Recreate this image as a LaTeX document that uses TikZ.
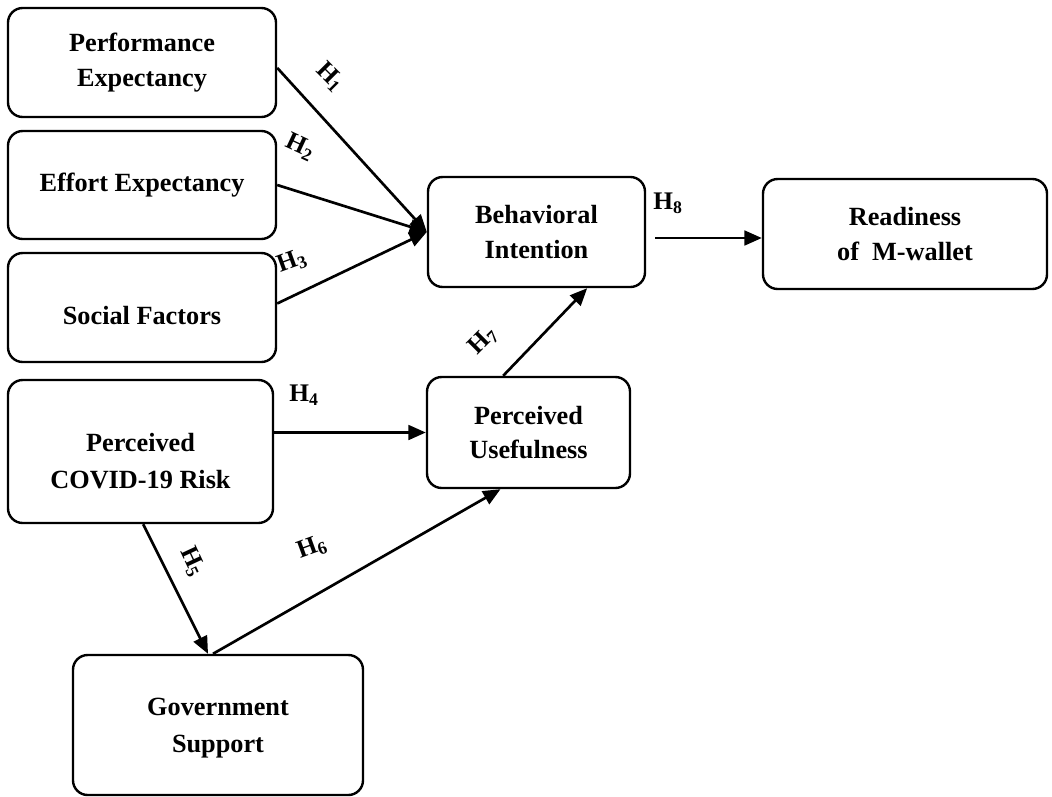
\documentclass[tikz,border=0pt]{standalone}
\usepackage{fontspec}
\setmainfont{Liberation Serif}
\usetikzlibrary{arrows.meta}

\begin{document}
\begin{tikzpicture}[
  x=0.75pt,y=-0.75pt,
  box/.style={draw, line width=1.8pt, rounded corners=11pt, align=center, inner sep=0pt,
    font=\bfseries\fontsize{19.7}{25.8}\selectfont},
  arr/.style={line width=2pt, -{Triangle[length=13pt,width=11pt]}},
  hyp/.style={inner sep=0pt, font=\bfseries\fontsize{19}{21}\selectfont}
]
\useasboundingbox (0,0) rectangle (1052,796);

\node[box, minimum width=201pt, minimum height=81.75pt] (pe) at (142,62.5) {Performance\\Expectancy};
\node[box, minimum width=201pt, minimum height=81pt] (ee) at (142,185) {Effort Expectancy};
\node[box, minimum width=201pt, minimum height=81.75pt] (sf) at (142,307.5) {\raisebox{-6pt}[\height][\depth]{Social Factors}};
\node[box, minimum width=198.75pt, minimum height=107.25pt] (pcr) at (140.5,451.5)
  {\raisebox{-7pt}[\height][\depth]{Perceived}\\[2pt]\raisebox{-7pt}[\height][\depth]{COVID-19 Risk}};
\node[box, minimum width=217.5pt, minimum height=105pt] (gs) at (218,725)
  {\raisebox{-2pt}[\height][\depth]{Government}\\[2pt]\raisebox{-2pt}[\height][\depth]{Support}};
\node[box, minimum width=162.75pt, minimum height=82.5pt] (bi) at (536.5,232) {Behavioral\\Intention};
\node[box, minimum width=152.25pt, minimum height=83.25pt] (pu) at (528.5,432.5) {Perceived\\Usefulness};
\node[box, minimum width=213pt, minimum height=82.5pt] (rm) at (905,234) {Readiness\\of\ \ M-wallet};

\coordinate (bi8) at (655,238);

\draw[arr] ([yshift=-4pt]pe.east) -- (bi.west);
\draw[arr] (ee.east) -- (bi.west);
\draw[arr] ([yshift=3pt]sf.east) -- (bi.west);
\draw[arr] (bi8) -- (bi8 -| rm.west);
\draw[arr] ([xshift=-19pt]pu.north) -- ([xshift=38pt]bi.south);
\draw[arr] (pcr.east |- pu.west) -- (pu.west);
\draw[arr] ([xshift=2pt]pcr.south) -- ([xshift=-7.5pt]gs.north);
\draw[arr] ([xshift=-3.75pt]gs.north) -- ([xshift=-21pt]pu.south);

\node[hyp, rotate=-45] (h1) at (330,77) {H\textsubscript{1}};
\node[hyp, rotate=-25] (h2) at (300,147) {H\textsubscript{2}};
\node[hyp, rotate=20] (h3) at (292,262) {H\textsubscript{3}};
\node[hyp] (h4) at (304,395) {H\textsubscript{4}};
\node[hyp, rotate=-65] (h5) at (192,562) {H\textsubscript{5}};
\node[hyp, rotate=20] (h6) at (312,548) {H\textsubscript{6}};
\node[hyp, rotate=45] (h7) at (483,341) {H\textsubscript{7}};
\node[hyp] (h8) at (668,203) {H\textsubscript{8}};
\end{tikzpicture}
\end{document}
